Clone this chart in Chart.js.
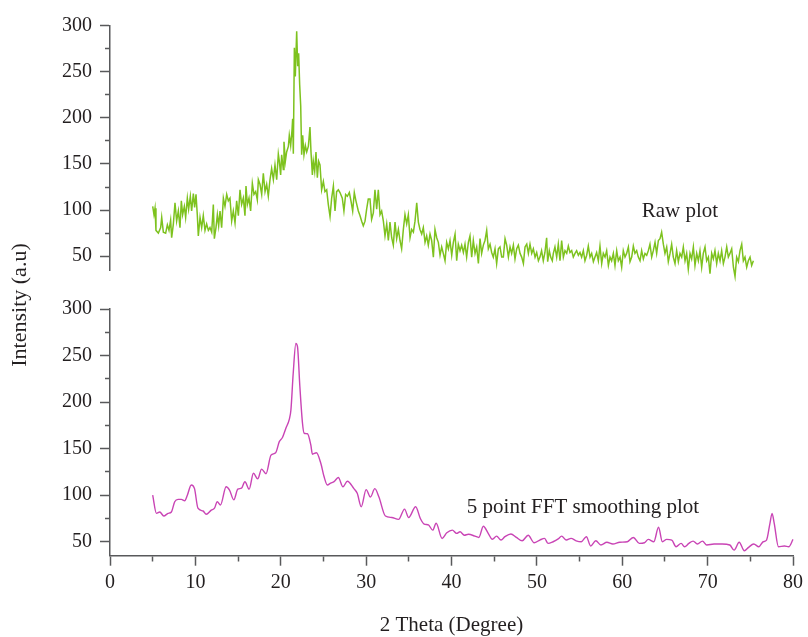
<!DOCTYPE html>
<html>
<head>
<meta charset="utf-8">
<script src="https://cdn.jsdelivr.net/npm/chart.js@4.4.1/dist/chart.umd.min.js"></script>
<style>
  html, body { margin: 0; padding: 0; background: #fff; }
  #wrap { position: relative; width: 808px; height: 637px; }
  #wrap canvas { position: absolute; left: 0; top: 0; }
</style>
</head>
<body>
<div id="wrap">
  <canvas id="smoothChart" width="808" height="637"></canvas>
  <canvas id="rawChart" width="808" height="290"></canvas>
</div>
<script>
// [2 theta, intensity]
const rawPlot = [
  [4.98,104],[5.13,95],[5.25,102],[5.36,78],[5.64,75],[5.91,81],[6.03,92],[6.22,76],[6.49,75],[6.69,84],
  [6.88,78],[7.07,89],[7.19,70],[7.39,85],[7.58,108],[7.77,88],[7.97,99],[8.16,81],[8.32,110],[8.47,95],
  [8.67,104],[8.82,92],[9.02,113],[9.17,101],[9.37,115],[9.52,99],[9.72,118],[9.87,103],[10.03,117],[10.18,95],
  [10.3,72],[10.5,92],[10.69,81],[10.88,94],[11.08,78],[11.27,85],[11.47,78],[11.66,81],[11.86,76],[12.05,106],
  [12.17,69],[12.36,81],[12.52,95],[12.67,83],[12.83,99],[13.02,81],[13.22,113],[13.41,104],[13.61,117],[13.8,110],
  [13.99,113],[14.19,88],[14.38,99],[14.58,86],[14.77,110],[14.97,94],[15.16,122],[15.35,106],[15.55,113],[15.74,94],
  [15.86,126],[16.02,106],[16.21,113],[16.4,99],[16.6,129],[16.79,117],[16.99,120],[17.18,111],[17.3,133],[17.49,128],
  [17.69,117],[17.88,140],[18.08,120],[18.27,128],[18.46,115],[18.66,133],[18.85,145],[19.05,133],[19.24,149],[19.44,133],
  [19.63,161],[19.75,153],[19.9,138],[20.02,160],[20.21,144],[20.29,174],[20.45,153],[20.6,163],[20.8,169],[20.91,181],
  [21.07,170],[21.22,186],[21.3,199],[21.38,161],
  [21.5,276],[21.61,245],[21.77,294],[21.89,256],[22.0,270],[22.12,236],[22.24,213],[22.35,160],[22.47,181],[22.62,160],
  [22.78,170],[22.94,163],[23.13,169],[23.32,190],[23.44,163],[23.6,138],[23.71,153],[23.87,142],[24.02,163],[24.18,135],
  [24.33,153],
  [24.49,149],[24.68,122],[24.88,131],[25.07,120],[25.27,122],[25.46,106],[25.66,93],[25.85,113],[26.05,126],[26.24,99],
  [26.43,120],[26.63,122],[26.82,119],[27.09,113],[27.28,99],[27.48,117],[27.68,115],[27.91,119],[28.1,110],[28.3,99],
  [28.49,119],[28.68,110],[28.96,99],[29.15,94],[29.35,88],[29.54,83],[29.74,88],[29.93,101],[30.12,112],[30.32,112],
  [30.51,90],[30.71,97],[30.9,122],[31.1,101],[31.29,122],[31.49,95],[31.68,99],[31.88,88],[32.07,72],[32.27,85],
  [32.46,67],[32.65,87],[32.85,70],[33.04,62],[33.24,87],[33.43,69],[33.63,79],[33.82,67],[34.01,58],[34.21,79],
  [34.4,95],[34.6,85],[34.79,95],[34.99,70],[35.18,79],[35.38,76],[35.57,88],[35.77,108],[35.96,87],[36.15,79],
  [36.35,74],[36.54,81],[36.74,65],[36.93,72],[37.12,62],[37.32,74],[37.51,67],[37.71,49],[37.9,79],[38.1,70],
  [38.29,65],[38.49,51],[38.68,60],[38.87,53],[39.07,45],[39.26,65],[39.46,58],[39.65,67],[39.85,51],[40.04,65],
  [40.24,74],[40.43,45],[40.62,63],[40.82,56],[41.01,62],[41.21,54],[41.4,63],[41.59,49],[41.79,65],[41.98,72],
  [42.18,49],[42.37,67],[42.57,53],[42.76,60],[42.96,42],[43.15,69],[43.34,53],[43.54,62],[43.73,67],[43.93,78],
  [44.12,58],[44.32,63],[44.51,54],[44.7,49],[44.9,58],[45.09,42],[45.29,58],[45.48,60],[45.68,49],[45.87,49],
  [46.07,69],[46.26,62],[46.46,49],[46.65,60],[46.84,53],[47.04,62],[47.23,47],[47.43,58],[47.62,62],[47.82,53],
  [48.01,49],[48.21,42],[48.4,60],[48.6,63],[48.79,53],[48.98,63],[49.18,53],[49.37,58],[49.57,49],[49.76,54],
  [49.96,45],
  [50.14,49],[50.33,56],[50.53,45],[50.72,54],[50.92,70],[51.04,44],[51.23,56],[51.39,49],[51.58,45],[51.7,53],
  [51.89,60],[52.09,49],[52.28,63],[52.48,45],[52.67,67],[52.87,49],[53.06,56],[53.26,53],[53.45,61],[53.64,54],
  [53.84,56],[54.03,49],[54.23,53],[54.42,56],[54.62,51],[54.81,54],[55.0,49],[55.2,56],[55.39,45],[55.59,51],
  [55.78,61],[55.98,49],[56.17,53],[56.37,44],[56.56,49],[56.75,54],[56.95,45],[57.14,61],[57.34,42],[57.53,53],
  [57.73,49],[57.92,56],[58.12,40],[58.31,49],[58.5,45],[58.7,53],[58.89,40],[59.09,56],[59.28,45],[59.48,49],
  [59.67,38],[59.86,56],[60.06,49],[60.25,53],[60.45,60],[60.64,44],[60.84,49],[61.03,61],[61.22,53],[61.42,56],
  [61.61,49],[61.81,45],[62.0,56],[62.2,47],[62.39,53],[62.59,51],[62.78,56],[62.97,63],[63.17,49],[63.36,56],
  [63.56,65],[63.75,53],[63.95,67],[64.14,69],[64.33,76],[64.53,63],[64.72,53],[64.92,60],[65.11,44],[65.31,53],
  [65.5,63],[65.69,49],[65.89,42],[66.08,56],[66.28,44],[66.47,53],[66.67,49],[66.86,60],[67.06,45],[67.25,53],
  [67.44,36],[67.64,53],[67.83,47],[68.03,60],[68.22,40],[68.42,53],[68.61,45],[68.8,56],[69.0,38],[69.19,53],
  [69.39,60],[69.58,45],[69.78,49],[69.97,31],[70.17,53],[70.36,47],[70.55,56],[70.75,42],[70.94,53],[71.14,45],
  [71.33,56],[71.53,42],[71.72,49],[71.92,60],[72.11,49],[72.3,53],[72.5,58],[72.7,38],[72.89,28],[73.08,49],
  [73.28,44],[73.47,56],[73.67,63],[73.86,45],[74.05,49],[74.25,38],[74.44,45],[74.64,49],[74.83,40],[75.03,45]
];

const smoothPlot = [
  [5.0,100],[5.44,80.5],[5.83,82],[6.3,77.6],[6.8,80.5],[7.19,82],[7.58,93],[7.97,95.5],[8.36,95.5],[8.75,94],
  [9.06,100],[9.52,111],[9.9,107],[10.3,86],[10.9,83],[11.27,79.5],[11.86,84],[12.24,86],[12.56,93],[12.94,89.5],
  [13.6,109],[14.0,105.5],[14.5,95],[14.97,106.5],[15.4,107.5],[15.8,114.5],[16.3,106.5],[16.8,123.5],[17.3,117.5],[17.76,128],
  [18.27,123],[18.86,143],[19.4,145.5],[19.83,157.5],[20.2,162],[20.6,172],[21.0,181.5],[21.19,191.5],[21.46,231],[21.77,263],
  [21.96,259.5],[22.24,216.5],[22.55,177],[22.74,166.5],[23.13,166],[23.52,154],[23.71,144],[24.18,145.6],[24.7,134],[25.07,120],
  [25.46,111],[25.85,113],[26.24,114.5],[26.74,119],[27.29,109],[27.8,115],[28.57,107],[28.96,102],[29.43,87.6],[30.0,106],
  [30.5,98],[31.02,107],[31.5,98],[32.26,77.6],[33.0,76],[33.8,74],[34.5,85],[34.98,76],[35.8,87.6],[36.35,75],
  [36.8,69],[37.3,68],[37.8,62.5],[38.2,69.8],[38.9,53.5],[39.45,59.6],[40.1,62.5],[40.6,59],[41.0,60.7],[41.5,57],
  [41.98,58],[42.76,56],[43.2,54.6],[43.73,66.7],[44.3,59],[44.78,52.6],[45.28,56],[45.8,51.8],[46.26,55.4],[46.96,58.3],
  [47.6,54.6],[48.28,51],[48.98,57],[49.68,48.9],[50.34,51.8],[50.9,53.6],[51.3,48.2],[51.9,50],[52.5,53],[52.9,56],
  [53.45,51.8],[54.0,53.6],[54.6,51],[55.2,50],[55.8,55.4],[56.3,45.4],[56.9,51],[57.5,46.5],[58.2,49.4],[58.9,47.5],
  [59.7,49.4],[60.6,50],[61.3,54.6],[62.0,48.2],[62.6,48.9],[63.05,52.5],[63.7,50],[64.25,65.5],[64.7,50],[65.2,52.5],
  [65.8,51.8],[66.3,44.6],[66.9,48.2],[67.3,44.6],[67.8,48.2],[68.3,50.7],[68.8,47.5],[69.4,50.7],[69.9,46.5],[70.75,47.5],
  [71.7,47.5],[72.6,46.5],[73.1,41],[73.7,49.4],[74.3,40.3],[74.8,44],[75.4,47.5],[76.0,44.6],[76.5,50],[76.9,51.8],
  [77.3,69.8],[77.55,80.5],[77.8,69.8],[78.3,44.6],[79.0,45.4],[79.5,44.6],[80.0,52.5]
];

const X_MIN = 0, X_MAX = 80, X_STEP = 5, X_LABEL_STEP = 10;
const Y_MIN = 35, Y_MAX = 300, Y_STEP = 25, Y_LABEL_STEP = 50;

const RAW_COLOR = "#7dc21e";
const SMOOTH_COLOR = "#c944b5";
const AXIS_COLOR = "#58595b";
const TEXT_COLOR = "#231f20";
const SERIF = '"Liberation Serif", "Times New Roman", serif';

const rawNote = { text: "Raw plot", x: 62.0, y: 92.5 };
const smoothNote = { text: "5 point FFT smoothing plot", x: 41.8, y: 81 };
const yTitle = "Intensity (a.u)";
const xTitle = "2 Theta (Degree)";

// minor ticks: half length, drawn next to the axis line
function minorDash(step, outerFirst) {
  return {
    tickBorderDash: (c) => (c.tick && c.tick.value % step ? [5, 10] : []),
    tickBorderDashOffset: (c) => (c.tick && c.tick.value % step && outerFirst ? 10 : 0),
  };
}

function yAxis() {
  return {
    type: "linear",
    min: Y_MIN,
    max: Y_MAX,
    afterFit: (s) => { s.width = 110; },
    border: { color: AXIS_COLOR, width: 1.5 },
    grid: {
      drawOnChartArea: false,
      color: AXIS_COLOR,
      tickLength: 10,
      tickWidth: 1.5,
      ...minorDash(Y_LABEL_STEP, true),
    },
    ticks: {
      stepSize: Y_STEP,
      includeBounds: false,
      autoSkip: false,
      padding: 8,
      color: TEXT_COLOR,
      font: { family: SERIF, size: 20 },
      callback: (v) => (v % Y_LABEL_STEP === 0 ? v : ""),
    },
  };
}

const notesPlugin = {
  id: "notes",
  afterDraw(chart, args, opts) {
    const ctx = chart.ctx;
    const xs = chart.scales.x;
    const ys = chart.scales.y;
    ctx.save();
    ctx.fillStyle = TEXT_COLOR;
    ctx.font = "21px " + SERIF;
    (opts.notes || []).forEach((n) => {
      ctx.textAlign = "left";
      ctx.textBaseline = "alphabetic";
      ctx.fillText(n.text, xs.getPixelForValue(n.x), ys.getPixelForValue(n.y));
    });
    if (opts.yTitle) {
      ctx.font = "22px " + SERIF;
      ctx.translate(20, 305);
      ctx.rotate(-Math.PI / 2);
      ctx.textAlign = "center";
      ctx.textBaseline = "middle";
      ctx.fillText(opts.yTitle, 0, 0);
    }
    ctx.restore();
  },
};

const commonPlugins = { legend: { display: false }, tooltip: { enabled: false } };

new Chart(document.getElementById("rawChart"), {
  type: "line",
  data: {
    datasets: [{
      data: rawPlot.map((p) => ({ x: p[0], y: p[1] })),
      borderColor: RAW_COLOR,
      borderWidth: 1.5,
      pointRadius: 0,
      tension: 0,
      fill: false,
      clip: false,
    }],
  },
  options: {
    responsive: false,
    animation: false,
    layout: { padding: { top: 25.7, bottom: 17.3, left: 0, right: 12 } },
    scales: {
      x: { type: "linear", min: X_MIN, max: X_MAX, display: false },
      y: yAxis(),
    },
    plugins: { ...commonPlugins, notes: { notes: [rawNote] } },
  },
  plugins: [notesPlugin],
});

new Chart(document.getElementById("smoothChart"), {
  type: "line",
  data: {
    datasets: [{
      data: smoothPlot.map((p) => ({ x: p[0], y: p[1] })),
      borderColor: SMOOTH_COLOR,
      borderWidth: 1.4,
      pointRadius: 0,
      cubicInterpolationMode: "monotone",
      fill: false,
      clip: false,
    }],
  },
  options: {
    responsive: false,
    animation: false,
    layout: { padding: { top: 309, bottom: 0, left: 0, right: 12 } },
    scales: {
      x: {
        type: "linear",
        min: X_MIN,
        max: X_MAX,
        afterFit: (s) => { s.height = 81.3; },
        border: { color: AXIS_COLOR, width: 1.5 },
        grid: {
          drawOnChartArea: false,
          color: AXIS_COLOR,
          tickLength: 10,
          tickWidth: 1.5,
          ...minorDash(X_LABEL_STEP, false),
        },
        ticks: {
          stepSize: X_STEP,
          autoSkip: false,
          maxRotation: 0,
          padding: 5,
          color: TEXT_COLOR,
          font: { family: SERIF, size: 20 },
          callback: (v) => (v % X_LABEL_STEP === 0 ? v : ""),
        },
        title: {
          display: true,
          text: xTitle,
          color: TEXT_COLOR,
          padding: 0,
          font: { family: SERIF, size: 21, lineHeight: 1.05 },
        },
      },
      y: yAxis(),
    },
    plugins: { ...commonPlugins, notes: { notes: [smoothNote], yTitle: yTitle } },
  },
  plugins: [notesPlugin],
});
</script>
</body>
</html>
